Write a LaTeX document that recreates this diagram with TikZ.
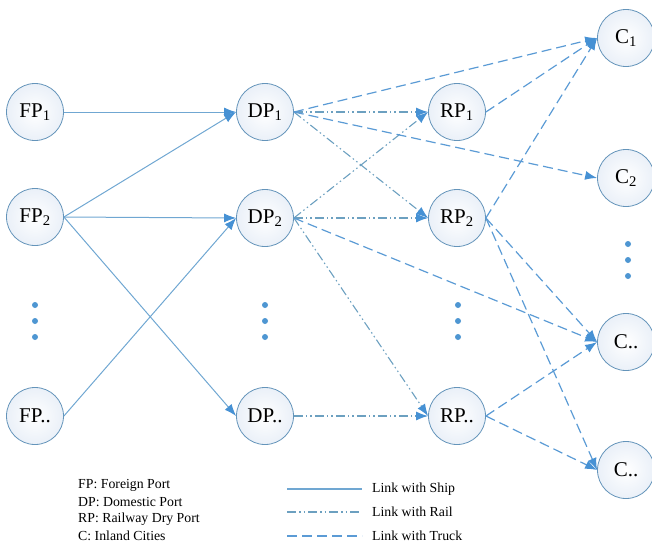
\documentclass[tikz,border=0pt]{standalone}
\usepackage{fontspec}
\setmainfont{Liberation Serif}
\usetikzlibrary{arrows.meta}
\definecolor{linkblue}{RGB}{91,155,213}
\definecolor{shipblue}{RGB}{112,167,210}
\definecolor{railblue}{RGB}{108,160,192}
\definecolor{ringc}{RGB}{100,148,186}
\definecolor{fillc}{RGB}{234,240,248}
\definecolor{dotc}{RGB}{78,150,210}
\definecolor{tipc}{RGB}{70,145,212}
\tikzset{
  portnode/.style={circle, draw=ringc, line width=0.8pt, minimum size=57pt, inner sep=0pt,
    inner color=white, outer color=fillc, font=\fontsize{21}{24}\selectfont},
  arrowtip/.style={-{Latex[length=12pt,width=9pt,color=tipc]}},
  ship/.style={draw=shipblue, line width=1pt},
  rail/.style={draw=railblue, line width=1.1pt, dash pattern=on 9pt off 3pt on 1.5pt off 3pt on 1.5pt off 3pt},
  truck/.style={draw=linkblue, line width=1.2pt, dash pattern=on 10pt off 5pt},
  vdot/.style={circle, fill=dotc, inner sep=0pt, minimum size=6pt},
  legtext/.style={anchor=west, inner sep=0pt, font=\fontsize{13.8}{16}\selectfont},
}
\begin{document}
\begin{tikzpicture}[x=1pt,y=-1pt]
\useasboundingbox (0,0) rectangle (652,544);
% nodes
\node[portnode] (FP1) at (35,112) {FP\textsubscript{1}};
\node[portnode] (FP2) at (35,217) {FP\textsubscript{2}};
\node[portnode] (FPd) at (35,416) {FP..};
\node[portnode] (DP1) at (265,112) {DP\textsubscript{1}};
\node[portnode] (DP2) at (265,218) {DP\textsubscript{2}};
\node[portnode] (DPd) at (265,416) {DP..};
\node[portnode] (RP1) at (457,112) {RP\textsubscript{1}};
\node[portnode] (RP2) at (457,218) {RP\textsubscript{2}};
\node[portnode] (RPd) at (457,416) {RP..};
\node[portnode] (C1) at (626,38) {C\textsubscript{1}};
\node[portnode] (C2) at (626,178) {C\textsubscript{2}};
\node[portnode] (Cd1) at (626,342) {C..};
\node[portnode] (Cd2) at (626,470) {C..};
% vertical dots
\foreach \yy [count=\i] in {305,321,337}{
  \node[vdot] (fd\i) at (35,\yy) {};
  \node[vdot] (dd\i) at (265,\yy) {};
  \node[vdot] (rd\i) at (458,\yy) {};
}
\foreach \yy [count=\i] in {244,260,276}{
  \node[vdot] (cd\i) at (628,\yy) {};
}
% ship links
\draw[ship,arrowtip] (FP1.east) -- (DP1.west);
\draw[ship,arrowtip] (FP2.east) -- (DP1.west);
\draw[ship,arrowtip] (FP2.east) -- (DP2.west);
\draw[ship,arrowtip] (FP2.east) -- (DPd.west);
\draw[ship,arrowtip] (FPd.east) -- (DP2.west);
% rail links
\draw[rail,arrowtip] (DP1.east) -- (RP1.west);
\draw[rail,arrowtip] (DP1.east) -- (RP2.west);
\draw[rail,arrowtip] (DP2.east) -- (RP1.west);
\draw[rail,arrowtip] (DP2.east) -- (RP2.west);
\draw[rail,arrowtip] (DP2.east) -- (RPd.west);
\draw[rail,arrowtip] (DPd.east) -- (RPd.west);
% truck links
\draw[truck,arrowtip] (DP1.east) -- (C1.west);
\draw[truck,arrowtip] (DP1.east) -- (C2.west);
\draw[truck,arrowtip] (DP2.east) -- (Cd1.west);
\draw[truck,arrowtip] (RP1.east) -- (C1.west);
\draw[truck,arrowtip] (RP2.east) -- (C1.west);
\draw[truck,arrowtip] (RP2.east) -- (Cd1.west);
\draw[truck,arrowtip] (RP2.east) -- (Cd2.west);
\draw[truck,arrowtip] (RPd.east) -- (Cd1.west);
\draw[truck,arrowtip] (RPd.east) -- (Cd2.west);
% legend
\node[legtext] (l1) at (78,485) {FP: Foreign Port};
\node[legtext] (l2) at (78,502) {DP: Domestic Port};
\node[legtext] (l3) at (78,519) {RP: Railway Dry Port};
\node[legtext] (l4) at (78,536) {C: Inland Cities};
\node[legtext] (lship) at (372,489) {Link with Ship};
\node[legtext] (lrail) at (372,512) {Link with Rail};
\node[legtext] (ltruck) at (372,536) {Link with Truck};
\coordinate (s1) at (287,489); \coordinate (s2) at (362,489);
\coordinate (r1) at (287,512); \coordinate (r2) at (362,512);
\coordinate (t1) at (287,536); \coordinate (t2) at (362,536);
\draw[ship, line width=1.3pt] (s1) -- (s2);
\draw[rail] (r1) -- (r2);
\draw[truck] (t1) -- (t2);
\end{tikzpicture}
\end{document}
